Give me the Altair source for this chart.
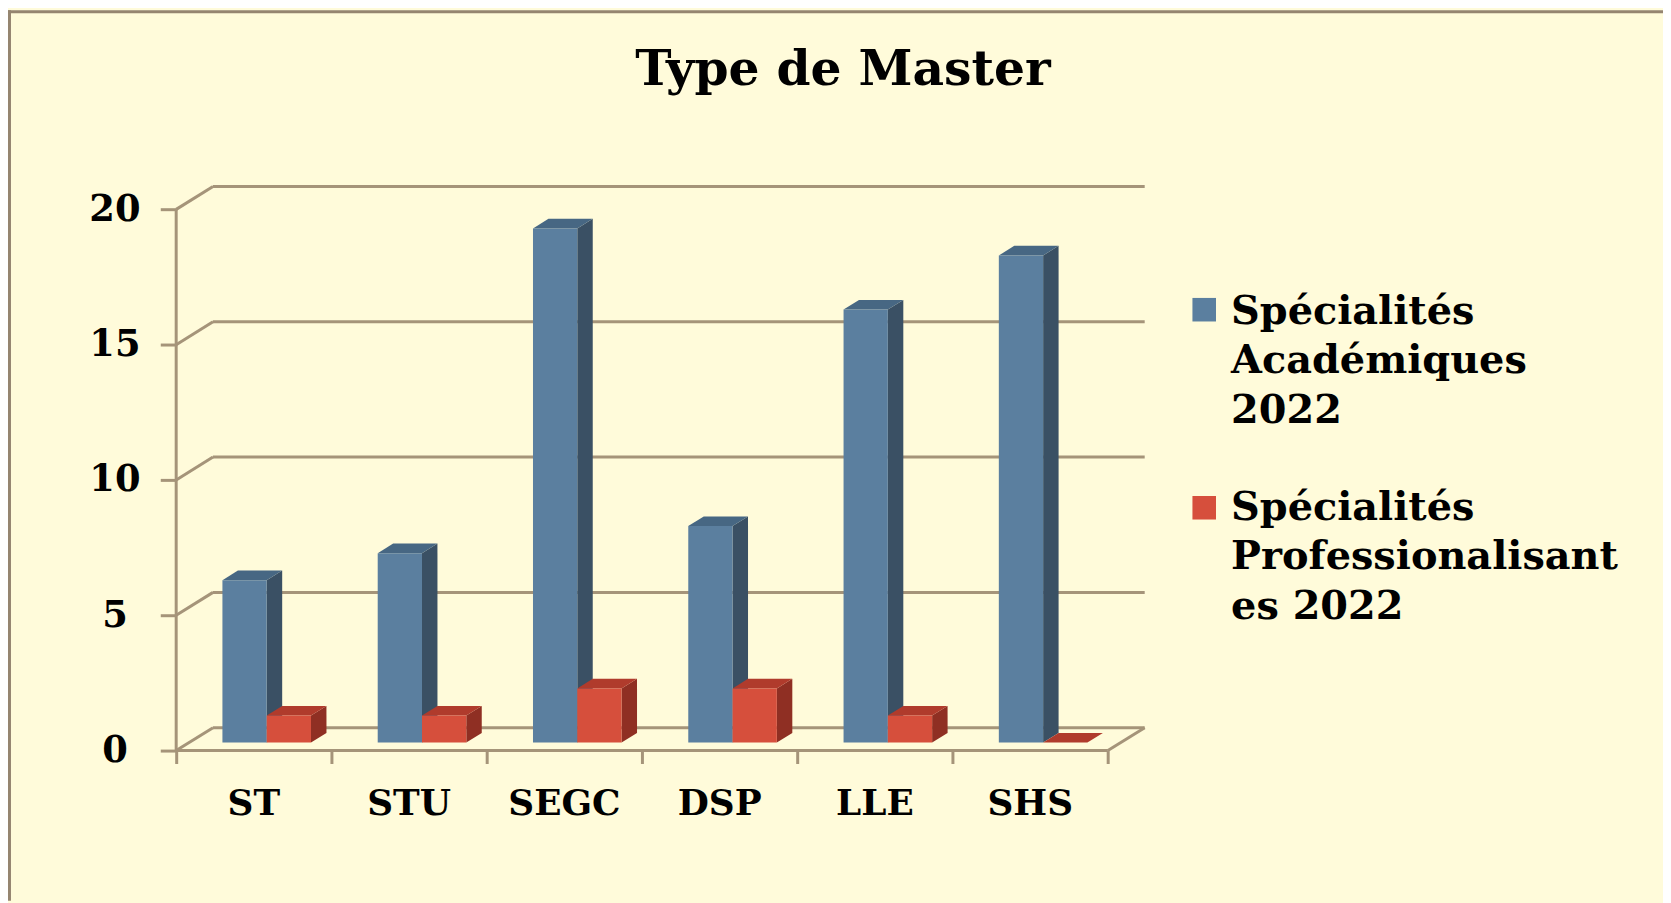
import altair as alt
import pandas as pd

# ---------------- data ----------------
categories = ["ST", "STU", "SEGC", "DSP", "LLE", "SHS"]
series = ["Spécialités Académiques 2022", "Spécialités Professionalisantes 2022"]
legend_labels = ["Spécialités\nAcadémiques\n2022", "Spécialités\nProfessionalisant\nes 2022"]
academic = [6, 7, 19, 8, 16, 18]
professional = [1, 1, 2, 2, 1, 0]
y_ticks = [0, 5, 10, 15, 20]
title_text = "Type de Master"

# ---------------- style ----------------
front_colors = ["#5B7F9F", "#D64F3C"]
side_colors = ["#3A5064", "#8F2F23"]
top_colors = ["#476783", "#B03B2C"]
line_color = "#A59479"
border_color = "#958570"
bg = "#FFFBDA"
FONT = "DejaVu Serif"

W_PX, H_PX = 983, 571
X_MAX, Y_MAX = 6.3, 21.0
px_x = W_PX / X_MAX
px_y = H_PX / Y_MAX
DX = 37 / px_x          # depth offset (data units)
DY = 23 / px_y
D0, D1 = 0.35, 0.77     # bar front / back depth
BW = 44.5 / px_x        # bar width

n = len(categories)
front_rows, side_rows, top_rows = [], [], []
for s_idx, vals in enumerate([academic, professional]):
    for i, v in enumerate(vals):
        bid = f"{s_idx}-{i}"
        xl = i + 0.5 - BW if s_idx == 0 else i + 0.5
        xr = xl + BW
        front_rows.append(dict(bar=bid, c=front_colors[s_idx],
                               x1=xl + D0 * DX, x2=xr + D0 * DX,
                               y1=D0 * DY, y2=v + D0 * DY))
        for d in (D0, D1):
            side_rows.append(dict(bar=bid, c=side_colors[s_idx],
                                  x=xr + d * DX, ylo=d * DY, yhi=v + d * DY))
            top_rows.append(dict(bar=bid, c=top_colors[s_idx],
                                 y=v + d * DY, xa=xl + d * DX, xb=xr + d * DX))
front_df = pd.DataFrame(front_rows)
side_df = pd.DataFrame(side_rows)
top_df = pd.DataFrame(top_rows)

line_rows = []
for v in y_ticks:
    line_rows.append(dict(x=DX, y=v + DY, x2=n + DX, y2=v + DY))   # back wall
    line_rows.append(dict(x=0, y=v, x2=DX, y2=v + DY))             # side wall
line_rows.append(dict(x=0, y=0, x2=n, y2=0))                       # floor front
line_rows.append(dict(x=n, y=0, x2=n + DX, y2=DY))                 # floor right
line_rows.append(dict(x=0, y=0, x2=0, y2=max(y_ticks)))            # y axis
lines_df = pd.DataFrame(line_rows)

label_df = pd.DataFrame(dict(cat=categories, x=[i + 0.5 for i in range(n)]))

xs = alt.Scale(domain=[0, X_MAX], nice=False, zero=False)
ys = alt.Scale(domain=[0, Y_MAX], nice=False, zero=False)
xaxis = alt.Axis(values=list(range(n + 1)), labels=False, domain=False, grid=False,
                 ticks=True, tickSize=13, tickWidth=3, tickColor=line_color, title=None)
yaxis = alt.Axis(values=y_ticks, domain=False, grid=False, tickSize=16, tickWidth=3,
                 tickColor=line_color, labelFont=FONT, labelFontWeight="bold",
                 labelFontSize=37, labelColor="#000000", labelPadding=46,
                 labelAlign="center", title=None)


def X(f):
    return alt.X(f, scale=xs, axis=xaxis)


def Y(f):
    return alt.Y(f, scale=ys, axis=yaxis)


lines = alt.Chart(lines_df).mark_rule(color=line_color, strokeWidth=3).encode(
    x=X("x:Q"), y=Y("y:Q"), x2="x2:Q", y2="y2:Q")

sides = alt.Chart(side_df).mark_area(interpolate="linear").encode(
    x=X("x:Q"), y=Y("yhi:Q"), y2="ylo:Q", detail="bar:N",
    color=alt.Color("c:N", scale=None))

tops = alt.Chart(top_df).mark_area(orient="horizontal", interpolate="linear").encode(
    y=Y("y:Q"), x=X("xa:Q"), x2="xb:Q", detail="bar:N",
    color=alt.Color("c:N", scale=None))

fronts = alt.Chart(front_df).mark_rect().encode(
    x=X("x1:Q"), x2="x2:Q", y=Y("y1:Q"), y2="y2:Q",
    color=alt.Color("c:N", scale=None))

labels = alt.Chart(label_df).mark_text(
    font=FONT, fontWeight="bold", fontSize=36, color="#000000",
    align="center", baseline="alphabetic").encode(
    x=X("x:Q"), y=alt.value(636), text="cat:N")

title = alt.Chart(pd.DataFrame(dict(t=[title_text]))).mark_text(
    font=FONT, fontWeight="bold", fontSize=49, color="#000000",
    align="center", baseline="alphabetic").encode(
    x=alt.value(670), y=alt.value(-98), text="t:N")

leg_df = pd.DataFrame(dict(label=legend_labels, c=front_colors,
                           sy=[128, 327], ty=[142, 339]))
leg_sq = alt.Chart(leg_df).mark_square(size=560, opacity=1, filled=True).encode(
    x=alt.value(1033), y=alt.Y("sy:Q", scale=None), color=alt.Color("c:N", scale=None))
leg_tx = alt.Chart(leg_df).mark_text(
    font=FONT, fontWeight="bold", fontSize=40, color="#000000", align="left",
    baseline="alphabetic", lineBreak="\n", lineHeight=50).encode(
    x=alt.value(1060), y=alt.Y("ty:Q", scale=None), text="label:N")

border_top = alt.Chart(pd.DataFrame(dict(a=[0]))).mark_rule(
    color=border_color, strokeWidth=3).encode(
    x=alt.value(-169), x2=alt.value(1494), y=alt.value(-171.5))
border_left = alt.Chart(pd.DataFrame(dict(a=[0]))).mark_rule(
    color=border_color, strokeWidth=3).encode(
    x=alt.value(-167.5), y=alt.value(-173), y2=alt.value(722))

chart = alt.layer(
    lines, sides, tops, fronts, labels, title, leg_sq, leg_tx, border_top, border_left
).properties(
    width=W_PX, height=H_PX, background=bg,
    padding={"left": 169, "top": 173, "right": 511, "bottom": 151},
    autosize=alt.AutoSizeParams(type="none"),
).configure_view(stroke=None)

chart.save("out.html", embed_options={"renderer": "svg", "actions": False})
